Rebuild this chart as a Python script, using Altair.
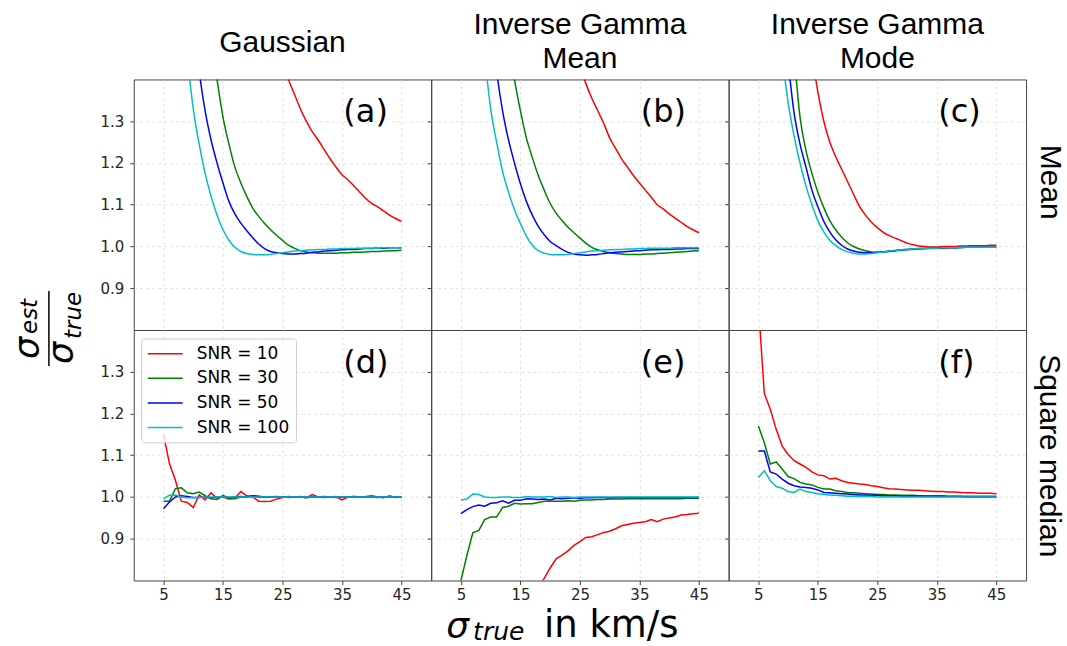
import altair as alt
import pandas as pd

# ---------------- data ----------------
X = list(range(5, 46))
SERIES = ["SNR = 10", "SNR = 30", "SNR = 50", "SNR = 100"]
COLORS = ["#ff0000", "#008000", "#0000ff", "#00bfbf"]
COL_TITLES = [["Gaussian"], ["Inverse Gamma", "Mean"], ["Inverse Gamma", "Mode"]]
ROW_TITLES = ["Mean", "Square median"]
PANEL_LABELS = ["(a)", "(b)", "(c)", "(d)", "(e)", "(f)"]
X_TICKS = [5, 15, 25, 35, 45]
Y_TICKS = [0.9, 1.0, 1.1, 1.2, 1.3]

a_r = [4.0, 3.8, 3.6, 3.4, 3.2, 3.0, 2.85, 2.7, 2.55, 2.4, 2.28, 2.16, 2.05, 1.94, 1.84, 1.75, 1.66, 1.59, 1.53, 1.48,
       1.44, 1.40, 1.365, 1.33, 1.30, 1.275, 1.255, 1.232, 1.21, 1.19, 1.172, 1.16, 1.145, 1.13, 1.115, 1.103, 1.095,
       1.085, 1.075, 1.067, 1.06]
a_g = [3.2, 2.9, 2.6, 2.35, 2.1, 1.9, 1.74, 1.61, 1.50, 1.40, 1.31, 1.245, 1.19, 1.152, 1.12, 1.092, 1.072, 1.055,
       1.04, 1.027, 1.015, 1.003, 0.996, 0.99, 0.987, 0.985, 0.984, 0.984, 0.984, 0.984, 0.985, 0.985, 0.986, 0.986,
       0.987, 0.988, 0.988, 0.989, 0.99, 0.99, 0.991]
a_b = [2.9, 2.5, 2.15, 1.9, 1.71, 1.56, 1.42, 1.325, 1.255, 1.20, 1.152, 1.108, 1.078, 1.056, 1.038, 1.021, 1.006,
       0.995, 0.988, 0.985, 0.983, 0.982, 0.982, 0.983, 0.984, 0.986, 0.987, 0.989, 0.99, 0.991, 0.992, 0.993, 0.993,
       0.994, 0.995, 0.995, 0.996, 0.996, 0.997, 0.997, 0.997]
a_c = [2.6, 2.2, 1.9, 1.65, 1.46, 1.33, 1.245, 1.175, 1.12, 1.075, 1.04, 1.015, 0.998, 0.988, 0.983, 0.981, 0.98,
       0.98, 0.981, 0.983, 0.985, 0.987, 0.989, 0.99, 0.991, 0.992, 0.993, 0.993, 0.994, 0.994, 0.995, 0.995, 0.995,
       0.996, 0.996, 0.996, 0.996, 0.997, 0.997, 0.997, 0.997]

b_r = [4.0, 3.8, 3.6, 3.4, 3.2, 3.0, 2.85, 2.7, 2.55, 2.4, 2.28, 2.16, 2.05, 1.94, 1.84, 1.74, 1.65, 1.57, 1.51, 1.47,
       1.43, 1.39, 1.355, 1.325, 1.295, 1.26, 1.235, 1.21, 1.19, 1.17, 1.152, 1.135, 1.118, 1.10, 1.09, 1.078, 1.068,
       1.058, 1.048, 1.04, 1.033]
b_g = [3.2, 2.9, 2.6, 2.35, 2.1, 1.9, 1.74, 1.61, 1.50, 1.40, 1.325, 1.26, 1.213, 1.17, 1.135, 1.103, 1.08, 1.062,
       1.046, 1.033, 1.02, 1.008, 0.998, 0.992, 0.988, 0.985, 0.983, 0.982, 0.981, 0.981, 0.981, 0.982, 0.982, 0.983,
       0.984, 0.985, 0.986, 0.987, 0.988, 0.989, 0.99]
b_b = [2.9, 2.5, 2.15, 1.9, 1.71, 1.56, 1.42, 1.325, 1.255, 1.20, 1.15, 1.108, 1.075, 1.048, 1.028, 1.012, 1.002,
       0.993, 0.986, 0.982, 0.98, 0.979, 0.98, 0.981, 0.983, 0.985, 0.986, 0.987, 0.988, 0.989, 0.99, 0.991, 0.992,
       0.992, 0.993, 0.993, 0.994, 0.994, 0.995, 0.995, 0.995]
b_c = [2.6, 2.2, 1.9, 1.66, 1.46, 1.33, 1.25, 1.18, 1.13, 1.088, 1.055, 1.025, 1.003, 0.99, 0.984, 0.981, 0.98, 0.98,
       0.981, 0.983, 0.985, 0.987, 0.989, 0.99, 0.991, 0.992, 0.993, 0.993, 0.994, 0.994, 0.995, 0.995, 0.996, 0.996,
       0.996, 0.996, 0.997, 0.997, 0.997, 0.997, 0.997]

c_r = [3.6, 3.2, 2.85, 2.55, 2.25, 2.0, 1.8, 1.66, 1.56, 1.46, 1.37, 1.30, 1.25, 1.215, 1.185, 1.155, 1.125, 1.096,
       1.075, 1.058, 1.045, 1.034, 1.026, 1.02, 1.014, 1.008, 1.004, 1.001, 1.0, 0.999, 0.999, 1.0, 1.0, 1.0, 1.001,
       1.001, 1.002, 1.002, 1.002, 1.003, 1.003]
c_g = [3.0, 2.6, 2.25, 1.98, 1.78, 1.62, 1.46, 1.31, 1.23, 1.175, 1.13, 1.093, 1.062, 1.04, 1.022, 1.009, 1.0, 0.994,
       0.99, 0.987, 0.986, 0.987, 0.988, 0.99, 0.991, 0.992, 0.993, 0.994, 0.995, 0.995, 0.996, 0.996, 0.997, 0.997,
       0.997, 0.998, 0.998, 0.998, 0.998, 0.998, 0.998]
c_b = [2.7, 2.3, 1.98, 1.74, 1.56, 1.44, 1.32, 1.245, 1.19, 1.135, 1.095, 1.06, 1.035, 1.016, 1.003, 0.994, 0.989,
       0.986, 0.985, 0.985, 0.986, 0.987, 0.989, 0.99, 0.992, 0.993, 0.994, 0.995, 0.995, 0.996, 0.996, 0.997, 0.997,
       0.997, 0.998, 0.998, 0.998, 0.998, 0.998, 0.998, 0.998]
c_c = [2.4, 2.05, 1.8, 1.62, 1.46, 1.345, 1.265, 1.20, 1.145, 1.10, 1.062, 1.035, 1.015, 1.002, 0.993, 0.987, 0.984,
       0.982, 0.982, 0.983, 0.985, 0.987, 0.989, 0.991, 0.992, 0.993, 0.994, 0.995, 0.995, 0.996, 0.996, 0.997, 0.997,
       0.997, 0.998, 0.998, 0.998, 0.998, 0.998, 0.998, 0.998]

d_r = [1.15, 1.08, 1.04, 0.99, 0.987, 0.975, 1.005, 0.993, 1.01, 0.997, 1.0, 0.995, 0.997, 1.013, 1.003, 1.0, 0.99,
       0.989, 0.99, 0.995, 0.999, 1.001, 1.0, 1.0, 0.998, 1.006, 1.0, 0.999, 1.0, 1.001, 0.993, 1.0, 1.001, 1.0,
       1.001, 1.003, 1.0, 0.998, 1.003, 0.999, 1.0]
d_g = [0.99, 0.99, 1.02, 1.022, 1.01, 1.008, 1.012, 1.003, 0.996, 0.994, 1.004, 0.997, 0.996, 1.0, 1.001, 1.002, 1.0,
       0.999, 1.0, 1.001, 1.0, 0.999, 1.0, 1.001, 0.998, 1.0, 1.0, 1.001, 1.0, 0.999, 1.0, 1.0, 1.001, 1.0, 1.0, 1.0,
       0.999, 1.0, 1.0, 1.0, 1.0]
d_b = [0.972, 0.988, 1.0, 1.003, 1.001, 0.999, 0.999, 1.0, 0.998, 1.0, 1.0, 0.999, 1.0, 1.001, 1.0, 1.003, 1.002, 1.0,
       1.0, 1.0, 1.0, 1.0, 1.0, 1.0, 1.0, 1.0, 1.0, 1.0, 1.0, 1.0, 1.0, 1.0, 1.0, 1.0, 1.0, 1.0, 1.0, 1.0, 1.0, 1.0,
       1.0]
d_c = [0.996, 1.004, 1.005, 1.0, 0.998, 0.998, 0.999, 1.0, 1.0, 1.0, 1.0, 1.0, 1.0, 1.0, 1.0, 1.0, 1.0, 1.0, 1.0,
       1.0, 1.0, 1.0, 1.0, 1.0, 1.0, 1.0, 1.0, 1.0, 1.0, 1.0, 1.0, 1.0, 1.0, 1.0, 1.0, 1.0, 1.0, 1.0, 1.0, 1.0, 1.0]

e_r = [0.5, 0.55, 0.59, 0.62, 0.65, 0.675, 0.695, 0.715, 0.73, 0.745, 0.755, 0.765, 0.775, 0.785, 0.805, 0.83, 0.852,
       0.861, 0.871, 0.884, 0.893, 0.903, 0.905, 0.91, 0.915, 0.918, 0.924, 0.931, 0.934, 0.937, 0.939, 0.941, 0.946,
       0.941, 0.947, 0.95, 0.952, 0.957, 0.958, 0.96, 0.961]
e_g = [0.80, 0.86, 0.914, 0.92, 0.946, 0.952, 0.952, 0.975, 0.978, 0.985, 0.983, 0.984, 0.984, 0.987, 0.99, 0.99,
       0.99, 0.99, 0.991, 0.99, 0.992, 0.993, 0.993, 0.994, 0.994, 0.995, 0.995, 0.995, 0.996, 0.996, 0.996, 0.996,
       0.996, 0.996, 0.996, 0.996, 0.996, 0.996, 0.997, 0.997, 0.997]
e_b = [0.96, 0.97, 0.977, 0.981, 0.978, 0.985, 0.986, 0.991, 0.985, 0.992, 0.992, 0.996, 0.995, 0.994, 0.995, 0.993,
       0.997, 0.996, 0.997, 0.998, 0.997, 0.998, 0.998, 0.999, 0.999, 0.998, 0.999, 0.999, 0.999, 0.999, 0.999, 0.999,
       0.999, 0.999, 0.999, 0.999, 0.999, 0.999, 0.999, 0.999, 0.999]
e_c = [0.993, 0.995, 1.007, 1.006, 1.0, 0.999, 0.999, 1.0, 1.0, 0.999, 0.999, 1.001, 1.0, 1.0, 1.0, 1.001, 0.999,
       1.0, 1.0, 0.999, 1.0, 1.0, 1.0, 1.0, 1.0, 1.0, 1.0, 1.0, 1.0, 1.0, 1.0, 1.0, 1.0, 1.0, 1.0, 1.0, 1.0, 1.0, 1.0,
       1.0, 1.0]

f_r = [1.46, 1.248, 1.21, 1.162, 1.122, 1.102, 1.087, 1.079, 1.071, 1.06, 1.053, 1.051, 1.043, 1.045, 1.039, 1.035,
       1.033, 1.031, 1.03, 1.027, 1.025, 1.022, 1.02, 1.019, 1.018, 1.017, 1.016, 1.016, 1.015, 1.014, 1.013, 1.013,
       1.012, 1.012, 1.011, 1.01, 1.01, 1.009, 1.009, 1.009, 1.008]
f_g = [1.17, 1.13, 1.079, 1.084, 1.067, 1.049, 1.044, 1.035, 1.031, 1.029, 1.023, 1.019, 1.019, 1.015, 1.013, 1.011,
       1.01, 1.009, 1.008, 1.007, 1.006, 1.006, 1.005, 1.005, 1.004, 1.004, 1.004, 1.003, 1.003, 1.003, 1.003, 1.003,
       1.002, 1.002, 1.002, 1.002, 1.002, 1.002, 1.002, 1.002, 1.002]
f_b = [1.11, 1.11, 1.06, 1.055, 1.043, 1.033, 1.027, 1.024, 1.023, 1.021, 1.017, 1.011, 1.01, 1.009, 1.008, 1.007,
       1.006, 1.005, 1.005, 1.004, 1.004, 1.003, 1.003, 1.003, 1.002, 1.002, 1.002, 1.002, 1.001, 1.001, 1.001, 1.001,
       1.001, 1.001, 1.001, 1.0, 1.0, 1.0, 1.0, 1.0, 1.0]
f_c = [1.047, 1.063, 1.039, 1.025, 1.021, 1.013, 1.011, 1.019, 1.013, 1.011, 1.008, 1.006, 1.005, 1.004, 1.003,
       1.002, 1.002, 1.001, 1.001, 1.001, 1.0, 1.0, 1.0, 1.0, 1.0, 1.0, 1.0, 1.0, 1.0, 1.0, 1.0, 1.0, 1.0, 1.0, 1.0,
       1.0, 1.0, 1.0, 1.0, 1.0, 1.0]

PANELS = [[a_r, a_g, a_b, a_c], [b_r, b_g, b_b, b_c], [c_r, c_g, c_b, c_c],
          [d_r, d_g, d_b, d_c], [e_r, e_g, e_b, e_c], [f_r, f_g, f_b, f_c]]

# ---------------- style ----------------
W, H = 298, 251
OX, OY = 133, 78          # top-left of panel (a) on the page
PAGE_W, PAGE_H = 1067, 646
TFONT = "Liberation Sans"
MFONT = "DejaVu Sans"
ONE = pd.DataFrame({"k": [0]})

xs = alt.Scale(domain=[0, 50], nice=False, zero=False)
ys = alt.Scale(domain=[0.8, 1.4], nice=False, zero=False)


def txt(text, x, y, size, font=MFONT, align="left", baseline="alphabetic", angle=0, style="normal"):
    return alt.Chart(ONE).mark_text(
        text=text, font=font, fontSize=size, align=align, baseline=baseline,
        angle=angle, fontStyle=style, color="black"
    ).encode(x=alt.value(x), y=alt.value(y))


def panel(i):
    row, col = divmod(i, 3)
    bottom = row == 1
    left = col == 0
    xaxis = alt.Axis(values=X_TICKS, grid=True, labels=bottom, ticks=bottom, title=None,
                     labelFont=MFONT, labelFontSize=15, labelColor="#262626", labelPadding=3,
                     tickColor="#444444", tickSize=4, domain=False,
                     gridColor="#d9d9d9", gridDash=[3, 3], gridWidth=0.8)
    yaxis = alt.Axis(values=Y_TICKS, format=".1f", grid=True, labels=left, ticks=True, title=None,
                     labelFont=MFONT, labelFontSize=15, labelColor="#262626", labelPadding=6,
                     tickColor="#444444", tickSize=4, domain=False,
                     gridColor="#d9d9d9", gridDash=[3, 3], gridWidth=0.8)
    layers = []
    if i == 0:
        # tiny white corner marks that pin the page extent
        layers.append(alt.Chart(ONE).mark_rect(color="white").encode(
            x=alt.value(-OX), x2=alt.value(-OX + 1), y=alt.value(-OY), y2=alt.value(-OY + 1)))
        layers.append(alt.Chart(ONE).mark_rect(color="white").encode(
            x=alt.value(PAGE_W - OX - 1), x2=alt.value(PAGE_W - OX),
            y=alt.value(PAGE_H - OY - 1), y2=alt.value(PAGE_H - OY)))
    for s, vals in enumerate(PANELS[i]):
        df = pd.DataFrame({"x": X, "y": vals})
        layers.append(alt.Chart(df).mark_line(
            color=COLORS[s], strokeWidth=1.5, clip=True,
            interpolate="monotone" if row == 0 else "linear"
        ).encode(x=alt.X("x:Q", scale=xs, axis=xaxis, title=None),
                 y=alt.Y("y:Q", scale=ys, axis=yaxis, title=None)))
    layers.append(txt(PANEL_LABELS[i], 210, 43, 32))
    if row == 0:
        t = COL_TITLES[col]
        if len(t) == 1:
            layers.append(txt(t[0], W / 2, -28, 30, font=TFONT, align="center"))
        else:
            layers.append(txt(t[0], W / 2, -46, 30, font=TFONT, align="center"))
            layers.append(txt(t[1], W / 2, -11, 30, font=TFONT, align="center"))
    if col == 2:
        if row == 0:
            layers.append(txt(ROW_TITLES[0], 322, 103, 30, font=TFONT, align="center",
                              baseline="middle", angle=90))
        else:
            layers.append(txt(ROW_TITLES[1], 321, 126, 30, font=TFONT, align="center",
                              baseline="middle", angle=90))
    if i == 3:
        # legend box
        layers.append(alt.Chart(ONE).mark_rect(
            fill="white", fillOpacity=0.8, stroke="#cccccc", strokeWidth=1, cornerRadius=3
        ).encode(x=alt.value(8), x2=alt.value(163), y=alt.value(9), y2=alt.value(113)))
        for s, name in enumerate(SERIES):
            yy = 23.7 + s * 24.7
            layers.append(alt.Chart(ONE).mark_rule(color=COLORS[s], strokeWidth=1.5).encode(
                x=alt.value(14), x2=alt.value(49), y=alt.value(yy)))
            layers.append(txt(name, 63, yy, 17, baseline="middle"))
        # y-axis title: sigma_est / sigma_true
        layers.append(txt("σ", -95, 29, 35, angle=270, style="italic"))
        layers.append(txt("est", -97, 4, 23, angle=270, style="italic"))
        layers.append(alt.Chart(ONE).mark_rule(color="black", strokeWidth=1.5).encode(
            x=alt.value(-85), y=alt.value(-39), y2=alt.value(36)))
        layers.append(txt("σ", -61, 34, 35, angle=270, style="italic"))
        layers.append(txt("true", -53, 9, 23, angle=270, style="italic"))
    if i == 4:
        layers.append(txt("σ", 15, 309, 36, style="italic"))
        layers.append(txt("true", 42, 311, 25, style="italic"))
        layers.append(txt("in km/s", 113, 308, 37))
    return alt.layer(*layers).properties(width=W, height=H)


chart = alt.concat(
    *[panel(i) for i in range(6)], columns=3, spacing=0, bounds="flush",
    padding={"left": 0, "top": 0, "right": 0, "bottom": 0}, background="white"
).configure_view(
    stroke="#444444", strokeWidth=1
)

chart.save("out.html", embed_options={"renderer": "svg", "actions": False})
